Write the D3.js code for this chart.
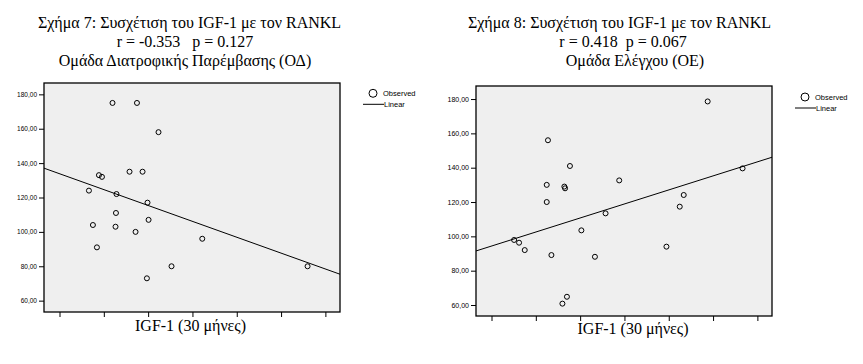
<!DOCTYPE html>
<html>
<head>
<meta charset="utf-8">
<script src="https://cdn.jsdelivr.net/npm/d3@7"></script>
<style>
  body { margin: 0; background: #fff; }
  svg { display: block; }
  .serif { font-family: "Liberation Serif", "Times New Roman", serif; white-space: pre; }
  .sans { font-family: "Liberation Sans", Arial, sans-serif; }
</style>
</head>
<body>
<script>
// ---- data ----
const xTicks = [100, 150, 200, 250, 300, 350, 400];
const yTicks = [60, 80, 100, 120, 140, 160, 180];

const leftTitle = ["Σχήμα 7: Συσχέτιση του IGF-1 με τον RANKL", "r = -0.353   p = 0.127", "Ομάδα Διατροφικής Παρέμβασης (ΟΔ)"];
const rightTitle = ["Σχήμα 8: Συσχέτιση του IGF-1 με τον RANKL", "r = 0.418  p = 0.067", "Ομάδα Ελέγχου (ΟΕ)"];
const xLabel = "IGF-1 (30 μήνες)";
const legendLabels = ["Observed", "Linear"];

const leftX = [159.8, 187.4, 211.7, 144.5, 147.9, 179.0, 193.7, 133.2, 164.3, 199.3, 163.7, 200.5, 137.7, 163.2, 185.8, 142.2, 198.6, 226.4, 261.1, 379.9];
const leftY = [175, 175, 158, 133, 132, 135, 135, 124, 122, 117, 111, 107, 104, 103, 100, 91, 73, 80, 96, 80];
const leftFit = [152.3, -0.1847]; // intercept, slope

const rightX = [163.7, 188.5, 162.3, 182.2, 183.0, 244.1, 162.3, 228.7, 201.4, 125.5, 131.1, 137.5, 167.6, 216.7, 185.1, 180.0, 343.9, 383.3, 316.9, 312.4, 297.4];
const rightY = [156, 141, 130, 129, 128, 132.6, 120, 113.4, 103.5, 97.9, 96.3, 92.0, 89.1, 88.1, 64.8, 60.8, 178.6, 139.6, 124.1, 117.3, 94.0];
const rightFit = [78.0, 0.1635];

// ---- drawing ----
const svg = d3.select("body").append("svg").attr("width", 863).attr("height", 364);

function drawChart(cfg) {
  const x = d3.scaleLinear().domain([82.5, 416.5]).range([cfg.left, cfg.right]);
  const y = d3.scaleLinear().domain(cfg.yDomain).range([cfg.bottom, cfg.top]);
  const g = svg.append("g");

  // title
  cfg.title.forEach((t, i) => {
    g.append("text")
      .attr("class", "serif")
      .attr("xml:space", "preserve")
      .attr("x", cfg.titleX[i]).attr("y", cfg.titleY[i])
      .attr("text-anchor", "middle")
      .attr("font-size", 16)
      .attr("fill", "#000")
      .text(t);
  });

  // plot background
  g.append("rect")
    .attr("x", cfg.left).attr("y", cfg.top)
    .attr("width", cfg.right - cfg.left).attr("height", cfg.bottom - cfg.top)
    .attr("fill", "#efefef");

  // clip
  const clipId = "clip" + cfg.id;
  svg.append("clipPath").attr("id", clipId).append("rect")
    .attr("x", cfg.left).attr("y", cfg.top)
    .attr("width", cfg.right - cfg.left).attr("height", cfg.bottom - cfg.top);

  // y axis
  const fmt = d => d3.format(".2f")(d).replace(".", ",");
  const yAxis = g.append("g")
    .attr("transform", `translate(${cfg.left},0)`)
    .call(d3.axisLeft(y).tickValues(yTicks).tickSize(5).tickPadding(2).tickFormat(fmt));
  yAxis.select(".domain").remove();
  yAxis.attr("font-family", null);
  yAxis.selectAll("text")
    .attr("class", "sans")
    .attr("font-size", cfg.tickFont)
    .attr("fill", "#000");
  yAxis.selectAll("line").attr("stroke", "#000");

  // x axis
  const xAxis = g.append("g")
    .attr("transform", `translate(0,${cfg.bottom})`)
    .call(d3.axisBottom(x).tickValues(xTicks).tickSize(5).tickFormat(""));
  xAxis.select(".domain").remove();
  xAxis.selectAll("line").attr("stroke", "#000");

  // fit line
  const xd = x.domain();
  g.append("line")
    .attr("clip-path", `url(#${clipId})`)
    .attr("x1", x(xd[0])).attr("y1", y(cfg.fit[0] + cfg.fit[1] * xd[0]))
    .attr("x2", x(xd[1])).attr("y2", y(cfg.fit[0] + cfg.fit[1] * xd[1]))
    .attr("stroke", "#000").attr("stroke-width", 1);

  // points
  g.append("g").selectAll("circle")
    .data(cfg.xs.map((v, i) => [v, cfg.ys[i]]))
    .join("circle")
    .attr("cx", d => x(d[0])).attr("cy", d => y(d[1]))
    .attr("r", 2.5)
    .attr("fill", "none").attr("stroke", "#000").attr("stroke-width", 1);

  // frame
  g.append("rect")
    .attr("x", cfg.left).attr("y", cfg.top)
    .attr("width", cfg.right - cfg.left).attr("height", cfg.bottom - cfg.top)
    .attr("fill", "none").attr("stroke", "#000").attr("stroke-width", 1.3);

  // x label
  g.append("text")
    .attr("class", "serif")
    .attr("x", cfg.xLabelX).attr("y", cfg.xLabelY)
    .attr("text-anchor", "middle")
    .attr("font-size", 16)
    .attr("fill", "#000")
    .text(xLabel);

  // legend
  const lg = g.append("g").attr("transform", `translate(${cfg.legX},${cfg.legY})`);
  lg.append("circle").attr("cx", 10).attr("cy", 0).attr("r", 4)
    .attr("fill", "none").attr("stroke", "#000").attr("stroke-width", 1);
  lg.append("text").attr("class", "sans").attr("x", 20).attr("y", 2.5)
    .attr("font-size", 7.5).attr("fill", "#000")
    .text(legendLabels[0]);
  lg.append("line").attr("x1", 0).attr("x2", 21).attr("y1", 11).attr("y2", 11)
    .attr("stroke", "#000").attr("stroke-width", 1);
  lg.append("text").attr("class", "sans").attr("x", 21).attr("y", 13.5)
    .attr("font-size", 7.5).attr("fill", "#000")
    .text(legendLabels[1]);
}

drawChart({
  id: "L", left: 44, right: 340, top: 83, bottom: 312,
  yDomain: [53.4, 186.6],
  title: leftTitle, titleX: [189.5, 185, 185], titleY: [28, 47, 66],
  xs: leftX, ys: leftY, fit: leftFit,
  tickFont: 6.5,
  xLabelX: 190.5, xLabelY: 331,
  legX: 363, legY: 93.3
});

drawChart({
  id: "R", left: 476, right: 772, top: 86, bottom: 316,
  yDomain: [53.6, 187.6],
  title: rightTitle, titleX: [619.5, 623, 635], titleY: [28, 47, 66],
  xs: rightX, ys: rightY, fit: rightFit,
  tickFont: 7,
  xLabelX: 633, xLabelY: 334,
  legX: 795, legY: 97
});
</script>
</body>
</html>
